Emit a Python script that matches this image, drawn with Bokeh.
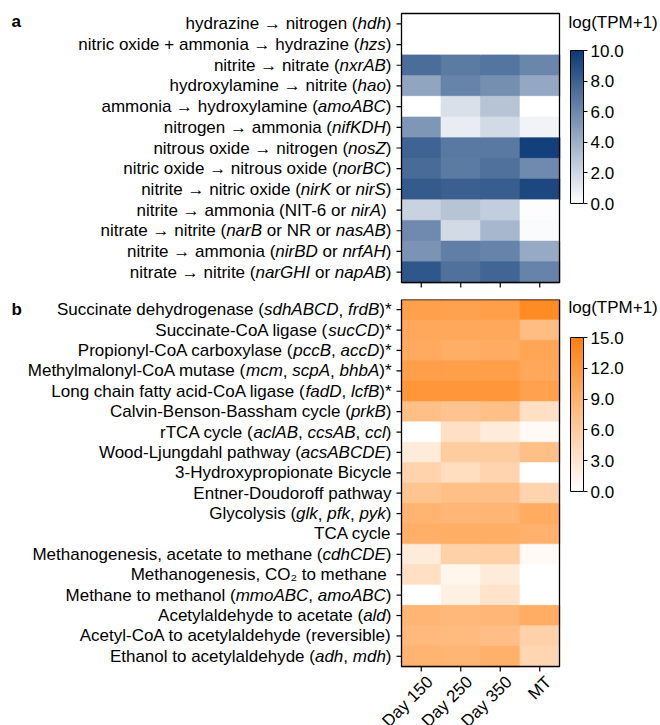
import math
import re

import numpy as np
from bokeh.core.properties import value
from bokeh.embed import file_html
from bokeh.layouts import column
from bokeh.models import (ColorBar, ColumnDataSource, FixedTicker, Label, LabelSet,
                          LinearColorMapper, PrintfTickFormatter, Range1d)
from bokeh.plotting import figure
from bokeh.resources import INLINE

# ---------------------------------------------------------------- data
SAMPLES = ["Day 150", "Day 250", "Day 350", "MT"]

# text in {braces} is set in italics (gene names)
N_PATHWAYS = [
    "hydrazine → nitrogen ({hdh})",
    "nitric oxide + ammonia → hydrazine ({hzs})",
    "nitrite → nitrate ({nxrAB})",
    "hydroxylamine → nitrite ({hao})",
    "ammonia → hydroxylamine ({amoABC})",
    "nitrogen → ammonia ({nifKDH})",
    "nitrous oxide → nitrogen ({nosZ})",
    "nitric oxide → nitrous oxide ({norBC})",
    "nitrite → nitric oxide ({nirK} or {nirS})",
    "nitrite → ammonia (NIT-6 or {nirA}) ",
    "nitrate → nitrite ({narB} or NR or {nasAB})",
    "nitrite → ammonia ({nirBD} or {nrfAH})",
    "nitrate → nitrite ({narGHI} or {napAB})",
]
N_DAY150 = [0.0, 0.0, 7.4, 4.6, 0.0, 5.3, 7.9, 7.5, 8.3, 2.3, 5.9, 5.4, 8.5]
N_DAY250 = [0.0, 0.0, 6.7, 6.3, 1.6, 0.9, 6.8, 6.7, 8.1, 3.0, 1.9, 6.5, 7.2]
N_DAY350 = [0.0, 0.0, 7.0, 5.7, 3.0, 1.9, 6.8, 7.2, 8.2, 2.5, 3.6, 6.3, 7.8]
N_MT = [0.0, 0.0, 6.1, 4.4, 0.0, 0.6, 9.7, 5.9, 9.3, 0.1, 0.2, 4.3, 6.3]
N_TICKS = [0, 2, 4, 6, 8, 10]

C_PATHWAYS = [
    "Succinate dehydrogenase ({sdhABCD}, {frdB})*",
    "Succinate-CoA ligase ({sucCD})*",
    "Propionyl-CoA carboxylase ({pccB}, {accD})*",
    "Methylmalonyl-CoA mutase ({mcm}, {scpA}, {bhbA})*",
    "Long chain fatty acid-CoA ligase ({fadD}, {lcfB})*",
    "Calvin-Benson-Bassham cycle ({prkB})",
    "rTCA cycle ({aclAB}, {ccsAB}, {ccl})",
    "Wood-Ljungdahl pathway ({acsABCDE})",
    "3-Hydroxypropionate Bicycle",
    "Entner-Doudoroff pathway",
    "Glycolysis ({glk}, {pfk}, {pyk})",
    "TCA cycle",
    "Methanogenesis, acetate to methane ({cdhCDE})",
    "Methanogenesis, CO₂ to methane ",
    "Methane to methanol ({mmoABC}, {amoABC})",
    "Acetylaldehyde to acetate ({ald})",
    "Acetyl-CoA to acetylaldehyde (reversible)",
    "Ethanol to acetylaldehyde ({adh}, {mdh})",
]
C_DAY150 = [11.1, 10.3, 10.0, 11.3, 12.3, 7.5, 0.0, 2.4, 5.2, 6.8, 8.8, 9.4, 2.4, 3.6, 0.0, 8.6, 8.2, 8.8]
C_DAY250 = [11.0, 10.3, 9.5, 11.2, 12.2, 7.0, 3.6, 6.0, 4.0, 7.4, 8.5, 9.5, 5.4, 1.1, 1.7, 8.3, 8.0, 8.6]
C_DAY350 = [11.2, 10.3, 9.8, 11.2, 12.3, 7.4, 2.4, 6.0, 5.0, 7.4, 8.6, 9.5, 5.6, 2.3, 3.3, 8.5, 7.6, 9.2]
C_MT = [13.6, 7.7, 10.5, 10.2, 11.0, 3.6, 0.6, 7.4, 0.0, 5.1, 9.9, 9.1, 0.6, 0.0, 0.0, 9.6, 5.4, 4.8]
C_TICKS = [0, 3, 6, 9, 12, 15]

CBAR_TITLE = "log(TPM+1)"

# ---------------------------------------------------------------- styling
FONT = "Liberation Sans"
FS = 17            # font size, px
W = 660            # page width, px
LEFT = 401         # heatmap left edge, px
CELL_W = 39.5      # column width, px
TICK = 5           # tick length, px

# advance widths (1/1000 em) of the Arial-metric font, used to place the
# italic gene names inside right-aligned row labels
ADV = {" ": 278, "(": 333, ")": 333, "*": 389, "+": 584, ",": 278, "-": 333, ".": 278,
       "→": 1000, "₂": 556}
ADV.update({d: 556 for d in "0123456789"})
ADV.update(dict(zip("ABCDEFGHIJKLMNOPQRSTUVWXYZ",
                    [667, 667, 722, 722, 667, 611, 778, 722, 278, 500, 667, 556, 833,
                     722, 778, 667, 778, 722, 667, 611, 722, 667, 944, 667, 667, 611])))
ADV.update(dict(zip("abcdefghijklmnopqrstuvwxyz",
                    [556, 556, 500, 556, 556, 278, 556, 556, 222, 222, 500, 222, 833,
                     556, 556, 556, 556, 333, 500, 278, 556, 500, 722, 500, 500, 500])))


def text_width(s, size=FS):
    return sum(ADV.get(ch, 556) for ch in s) * size / 1000.0


def split_runs(label):
    runs = []
    for part in re.split(r"(\{[^}]*\})", label):
        if not part:
            continue
        if part.startswith("{"):
            runs.append((part[1:-1], "italic"))
        else:
            runs.append((part, "normal"))
    return runs


def label_source(labels, right_px):
    xs, ys, texts, offs, styles = [], [], [], [], []
    for i, label in enumerate(labels):
        cursor = right_px
        for text, style in reversed(split_runs(label)):
            trail = len(text) - len(text.rstrip())
            body = text.strip()
            if body:
                xs.append(0)
                ys.append(i + 0.5)
                texts.append(body)
                offs.append(cursor - text_width(" " * trail))
                styles.append(style)
            cursor -= text_width(text)
    return ColumnDataSource(dict(x=xs, y=ys, text=texts, x_offset=offs, style=styles))


def ramp(end_hex, n=256):
    r, g, b = (int(end_hex[i:i + 2], 16) for i in (1, 3, 5))
    cols = []
    for t in np.linspace(0, 1, n):
        cols.append("#%02x%02x%02x" % (round(255 + (r - 255) * t),
                                       round(255 + (g - 255) * t),
                                       round(255 + (b - 255) * t)))
    return cols


def heatmap_panel(labels, cols, ticks, end_hex, letter, height, top, map_h,
                  show_x_labels, bar_top, bar_h, letter_drop, title_drop):
    """One panel; the frame spans the whole panel so labels sit inside it."""
    n = len(labels)
    cell_h = map_h / n
    mapper = LinearColorMapper(palette=ramp(end_hex), low=0, high=ticks[-1])

    xs, ys, vs = [], [], []
    for j, col in enumerate(cols):
        for i, v in enumerate(col):
            xs.append(j + 0.5)
            ys.append(i + 0.5)
            vs.append(v)
    src = ColumnDataSource(dict(x=xs, y=ys, v=vs))

    p = figure(width=W, height=height, frame_width=W, frame_height=height,
               x_range=Range1d(-LEFT / CELL_W, (W - LEFT) / CELL_W),
               y_range=Range1d((height - top) / cell_h, -top / cell_h),
               min_border=0, x_axis_location=None, y_axis_location=None,
               toolbar_location=None, output_backend="svg",
               background_fill_color="white", border_fill_color="white")
    p.grid.visible = False
    p.outline_line_color = None

    p.rect("x", "y", width=1, height=1, source=src, dilate=True,
           fill_color={"field": "v", "transform": mapper},
           line_color={"field": "v", "transform": mapper}, line_width=0.6)

    # heatmap border and tick marks
    p.rect(x=2, y=n / 2, width=4, height=n, fill_color=None,
           line_color="black", line_width=1.3)
    rows = [i + 0.5 for i in range(n)]
    p.segment(x0=[-TICK / CELL_W] * n, y0=rows, x1=[0] * n, y1=rows,
              line_color="black", line_width=1.2)
    cols_c = [j + 0.5 for j in range(4)]
    p.segment(x0=cols_c, y0=[n] * 4, x1=cols_c, y1=[n + TICK / cell_h] * 4,
              line_color="black", line_width=1.2)

    p.add_layout(LabelSet(x="x", y="y", text="text", x_offset="x_offset",
                          text_font_style="style", source=label_source(labels, -10),
                          text_align="right", text_baseline="middle",
                          text_font=value(FONT), text_font_size=f"{FS}px",
                          text_color="black"))

    if show_x_labels:
        xsrc = ColumnDataSource(dict(x=cols_c, y=[n] * 4, text=SAMPLES))
        p.add_layout(LabelSet(x="x", y="y", text="text", source=xsrc,
                              angle=math.pi / 4, x_offset=2, y_offset=-6,
                              text_align="right", text_baseline="top",
                              text_font=value(FONT), text_font_size=f"{FS}px",
                              text_color="black"))

    p.add_layout(Label(x=0, y=0, x_offset=-390, y_offset=-letter_drop, text=letter,
                       text_font=FONT, text_font_size=f"{FS}px",
                       text_font_style="bold", text_align="left",
                       text_baseline="middle", text_color="black"))

    p.add_layout(Label(x=4, y=0, x_offset=9, y_offset=-title_drop, text=CBAR_TITLE,
                       text_font=FONT, text_font_size=f"{FS}px",
                       text_align="left", text_baseline="middle",
                       text_color="black"))

    cb = ColorBar(color_mapper=mapper, ticker=FixedTicker(ticks=ticks),
                  formatter=PrintfTickFormatter(format="%.1f"),
                  width=13, height=bar_h,
                  location=(LEFT + 4 * CELL_W + 11, height - bar_top - bar_h),
                  padding=0, margin=0,
                  major_label_text_font=FONT, major_label_text_font_size=f"{FS}px",
                  major_label_text_color="black",
                  major_tick_out=4, major_tick_in=0, major_tick_line_color="black",
                  label_standoff=3, bar_line_color="black", bar_line_width=1,
                  background_fill_alpha=0, border_line_color=None)
    p.add_layout(cb, "center")
    return p


pa = heatmap_panel(N_PATHWAYS, [N_DAY150, N_DAY250, N_DAY350, N_MT], N_TICKS,
                   "#0c3a76", "a", 299, 13, 269, False, 50, 153, 7.8, 9.2)
pb = heatmap_panel(C_PATHWAYS, [C_DAY150, C_DAY250, C_DAY350, C_MT], C_TICKS,
                   "#ff7f0e", "b", 426, 0, 367, True, 337 - 299, 154, 10.1, 8.2)

layout = column(pa, pb)
open("out.html", "w").write(file_html(layout, INLINE))
